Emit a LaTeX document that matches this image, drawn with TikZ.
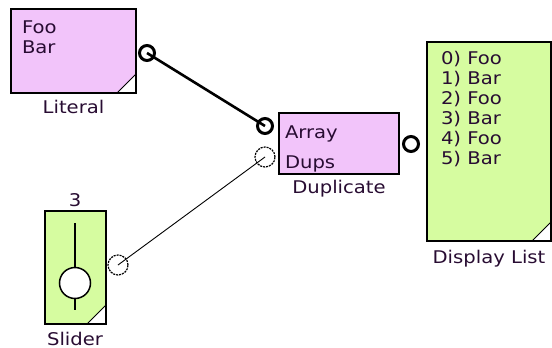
\documentclass[tikz,border=0pt]{standalone}
\usepackage{fontspec}
\setmainfont{DejaVu Sans}[FakeStretch=1.12]
\usetikzlibrary{calc}
\definecolor{pinkc}{RGB}{242,196,250}
\definecolor{greenc}{RGB}{214,252,160}
\definecolor{txtc}{RGB}{40,12,50}
\tikzset{
  boxfill/.style={fill=#1, draw=none, inner sep=0pt, outer sep=0pt, anchor=north west},
  boxline/.style={draw=black, line width=1.5pt},
  txt/.style={inner sep=0pt, outer sep=0pt, text=txtc, font=\fontsize{17.5}{20}\selectfont},
  portthick/.style={circle, draw=black, line width=3pt, minimum size=15pt, inner sep=0pt},
  portthin/.style={circle, draw=black, line width=1.2pt, dash pattern=on 2pt off 1pt, minimum size=20pt, inner sep=0pt},
  corner/.style={fill=white, draw=none},
  wirethick/.style={draw=black, line width=2.6pt},
  wirethin/.style={draw=black, line width=0.9pt},
}
\begin{document}
\begin{tikzpicture}[x=1pt,y=-1pt]
\useasboundingbox (0,0) rectangle (552,348);

% ---------- Literal ----------
\node[boxfill=pinkc, minimum width=125pt, minimum height=84pt] (lit) at (11,9) {};
\fill[corner] (lit.south east) -- ++(-19,0) -- ++(19,-19) -- cycle;
\draw[line width=1pt] ($(lit.south east)+(-19,0)$) -- ($(lit.south east)+(0,-19)$);
\draw[boxline] (lit.north west) rectangle (lit.south east);
\node[txt, anchor=base west] (foo) at (22,33) {Foo};
\node[txt, anchor=base west] (bar) at (22,53) {Bar};
\node[txt, anchor=base] (litlbl) at (73.5,113) {Literal};

% ---------- Duplicate ----------
\node[boxfill=pinkc, minimum width=120pt, minimum height=61pt] (dup) at (279,113) {};
\draw[boxline] (dup.north west) rectangle (dup.south east);
\node[txt, anchor=base west] (arr) at (285,138) {Array};
\node[txt, anchor=base west] (dups) at (285,168) {Dups};
\node[txt, anchor=base] (duplbl) at (339,193) {Duplicate};

% ---------- Display List ----------
\node[boxfill=greenc, minimum width=124pt, minimum height=199pt] (disp) at (427,42) {};
\fill[corner] (disp.south east) -- ++(-19,0) -- ++(19,-19) -- cycle;
\draw[line width=1pt] ($(disp.south east)+(-19,0)$) -- ($(disp.south east)+(0,-19)$);
\draw[boxline] (disp.north west) rectangle (disp.south east);
\node[txt, anchor=base west] (l0) at (441,64) {0) Foo};
\node[txt, anchor=base west] (l1) at (441,84) {1) Bar};
\node[txt, anchor=base west] (l2) at (441,104) {2) Foo};
\node[txt, anchor=base west] (l3) at (441,124) {3) Bar};
\node[txt, anchor=base west] (l4) at (441,144) {4) Foo};
\node[txt, anchor=base west] (l5) at (441,164) {5) Bar};
\node[txt, anchor=base] (displbl) at (489,263) {Display List};

% ---------- Slider ----------
\node[boxfill=greenc, minimum width=61pt, minimum height=113pt] (sld) at (45,211) {};
\fill[corner] (sld.south east) -- ++(-19,0) -- ++(19,-19) -- cycle;
\draw[line width=1pt] ($(sld.south east)+(-19,0)$) -- ($(sld.south east)+(0,-19)$);
\draw[boxline] (sld.north west) rectangle (sld.south east);
\coordinate (trackTop) at (75,223);
\coordinate (trackBot) at (75,310);
\draw[line width=1.5pt] (trackTop) -- (trackBot);
\node[circle, draw=black, fill=white, line width=1.5pt, minimum size=31pt, inner sep=0pt] (knob) at (75,283) {};
\node[txt, anchor=base] (sldval) at (75,206) {3};
\node[txt, anchor=base] (sldlbl) at (75,345) {Slider};

% ---------- Ports ----------
\node[portthick] (litout) at (147,53) {};
\node[portthick] (arrin) at (265,126) {};
\node[portthin] (dupsin) at (265,157) {};
\node[portthick] (dupout) at (411,144) {};
\node[portthin] (sldout) at (118,265) {};

% ---------- Wires ----------
\draw[wirethick] (litout.center) -- (arrin.center);
\draw[wirethin] (sldout.center) -- (dupsin.center);
\end{tikzpicture}
\end{document}
